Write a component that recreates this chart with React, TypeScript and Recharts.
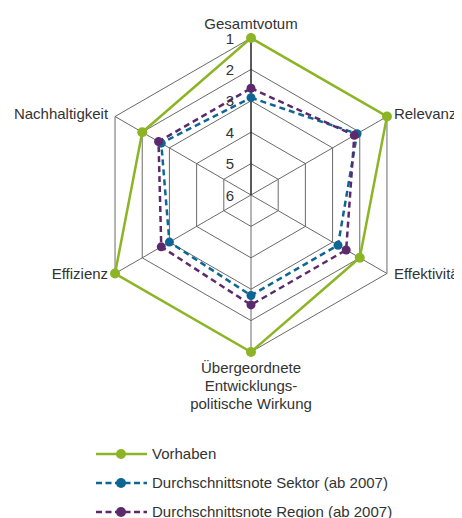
import React from 'react';
import { RadarChart, Radar, PolarGrid, PolarAngleAxis, PolarRadiusAxis, Legend } from 'recharts';

if (typeof document !== 'undefined') {
  document.documentElement.style.overflow = 'hidden';
  document.body.style.overflow = 'hidden';
}

const categories = ['Gesamtvotum', 'Relevanz', 'Effektivität', 'Übergeordnete', 'Effizienz', 'Nachhaltigkeit'];
const categoryLabelLines = [
  ['Gesamtvotum'],
  ['Relevanz'],
  ['Effektivität'],
  ['Übergeordnete', 'Entwicklungs-', 'politische Wirkung'],
  ['Effizienz'],
  ['Nachhaltigkeit'],
];
const vorhaben = [1, 1, 2, 1, 1, 2];
const sektor = [2.9, 2.1, 2.8, 2.8, 3.0, 2.7];
const region = [2.6, 2.2, 2.5, 2.5, 2.7, 2.6];
const radiusDomain = [1, 6];
const seriesNames = ['Vorhaben', 'Durchschnittsnote Sektor (ab 2007)', 'Durchschnittsnote Region (ab 2007)'];

const FONT = '"Liberation Sans", Arial, sans-serif';
const TEXT = '#333333';
const GREEN = '#8cb526';
const BLUE = '#0e6694';
const PURPLE = '#5c2a6c';

const data = categories.map((c, i) => ({
  cat: c,
  vorhaben: vorhaben[i],
  sektor: sektor[i],
  region: region[i],
}));

const series = [
  { key: 'vorhaben', name: seriesNames[0], color: GREEN, dash: undefined as string | undefined },
  { key: 'sektor', name: seriesNames[1], color: BLUE, dash: '6 4' },
  { key: 'region', name: seriesNames[2], color: PURPLE, dash: '6 4' },
];

const AngleTick = (props: any) => {
  const { x, y, payload, cx, cy } = props;
  const idx = categories.indexOf(payload.value);
  const lines = categoryLabelLines[idx] || [String(payload.value)];
  const dx = x - cx;
  const dy = y - cy;
  let anchor: 'start' | 'middle' | 'end' = 'middle';
  if (dx > 1) anchor = 'start';
  else if (dx < -1) anchor = 'end';
  let baseY = y;
  if (anchor === 'middle') {
    baseY = dy < 0 ? y - 1 : y + 12.5;
  } else {
    baseY = dy < 0 ? y + 6 : y + 1.5;
  }
  return (
    <text x={x} y={baseY} textAnchor={anchor} fontFamily={FONT} fontSize={15} fill={TEXT}>
      {lines.map((l, i) => (
        <tspan key={i} x={x} dy={i === 0 ? 0 : 18}>
          {l}
        </tspan>
      ))}
    </text>
  );
};

const RadiusTick = (props: any) => {
  const { x, y, payload } = props;
  return (
    <text x={x - 17} y={y + 5.5} textAnchor="end" fontFamily={FONT} fontSize={15} fill={TEXT}>
      {payload.value}
    </text>
  );
};

const renderLegend = () => (
  <div style={{ fontFamily: FONT, fontSize: 15, color: TEXT }}>
    {series.map((s) => (
      <div key={s.key} style={{ display: 'flex', alignItems: 'center', height: 29, whiteSpace: 'nowrap' }}>
        <svg width={54} height={12} style={{ display: 'block' }}>
          <line x1={0} y1={6} x2={51} y2={6} stroke={s.color} strokeWidth={2.5} strokeDasharray={s.dash ? '6 3.5' : undefined} />
          <circle cx={25} cy={6} r={5} fill={s.color} />
        </svg>
        <span style={{ marginLeft: 2 }}>{s.name}</span>
      </div>
    ))}
  </div>
);

export default function App() {
  return (
    <div style={{ width: 454, height: 510, position: 'relative' }}>
      <RadarChart
        width={454}
        height={510}
        data={data}
        cx={243}
        cy={187}
        outerRadius={157}
        margin={{ top: 0, right: 0, bottom: 0, left: 0 }}
        startAngle={90}
        endAngle={-270}
      >
        <PolarGrid gridType="polygon" stroke="#6a6a6a" strokeWidth={1} />
        <PolarAngleAxis dataKey="cat" tick={<AngleTick />} tickLine={false} axisLine={false} tickSize={8} />
        <PolarRadiusAxis
          angle={90}
          domain={radiusDomain}
          reversed
          tickCount={6}
          tick={<RadiusTick />}
          tickLine={false}
          axisLine={{ stroke: '#000000', strokeWidth: 1 }}
          allowDataOverflow
        />
        <PolarRadiusAxis
          radiusAxisId="down"
          angle={270}
          domain={radiusDomain}
          reversed
          tick={false}
          tickLine={false}
          axisLine={{ stroke: '#000000', strokeWidth: 1 }}
        />
        {series.map((s) => (
          <Radar
            key={s.key}
            name={s.name}
            dataKey={s.key}
            stroke={s.color}
            strokeWidth={2.5}
            strokeDasharray={s.dash}
            fill="none"
            dot={{ r: s.key === 'vorhaben' ? 5 : 4.5, fill: s.color, stroke: s.color, strokeWidth: 0, fillOpacity: 1 }}
            isAnimationActive={false}
          />
        ))}
        <Legend content={renderLegend} wrapperStyle={{ left: 88, top: 431, width: 'auto' }} />
      </RadarChart>
    </div>
  );
}
